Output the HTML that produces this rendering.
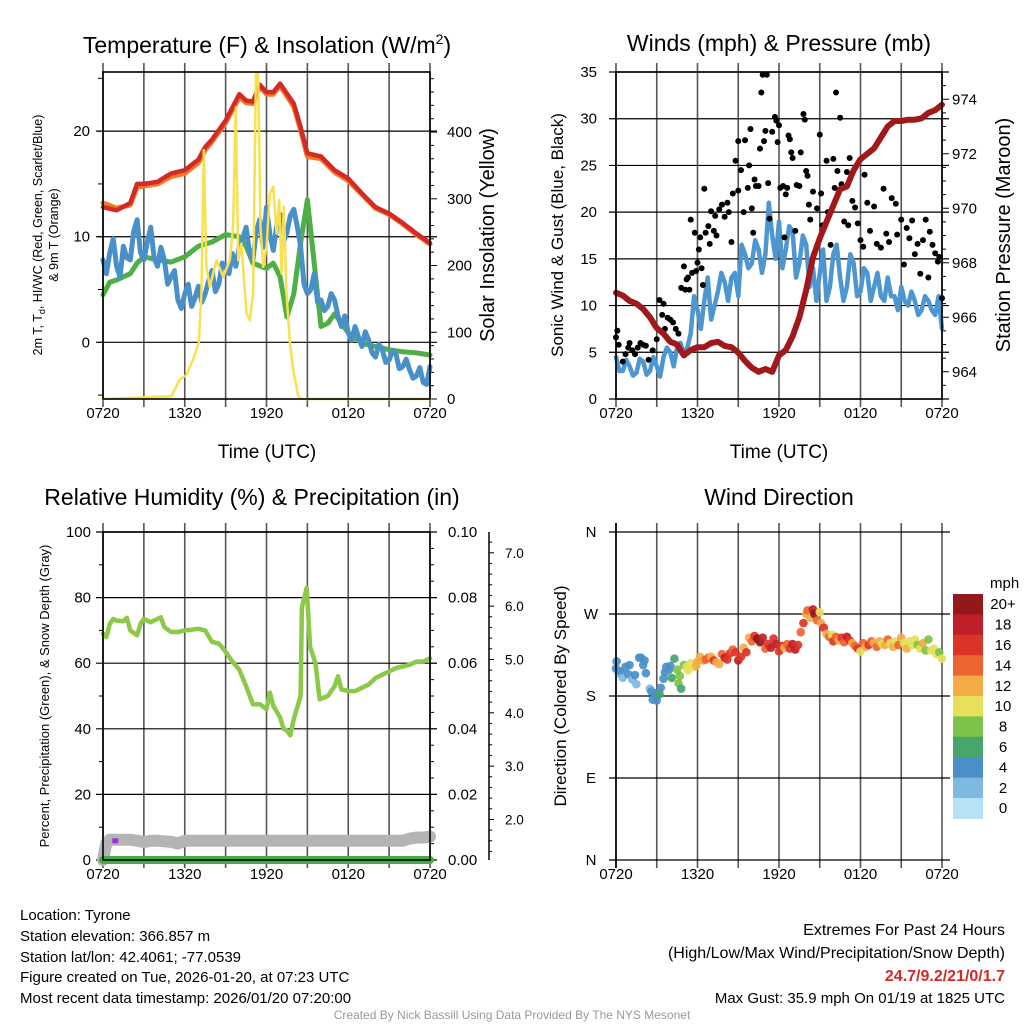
<!DOCTYPE html>
<html><head><meta charset="utf-8">
<style>
html,body{margin:0;padding:0;background:#fff;}
svg{display:block;font-family:"Liberation Sans",Arial,sans-serif;}
</style></head>
<body>
<svg id="fig" width="1024" height="1024" viewBox="0 0 1024 1024" xmlns="http://www.w3.org/2000/svg">
<rect x="0" y="0" width="1024" height="1024" fill="#fff"/>
<text x="267" y="53" font-size="23" text-anchor="middle">Temperature (F) &amp; Insolation (W/m<tspan font-size="14" dy="-9">2</tspan><tspan dy="9">)</tspan></text>
<text x="779" y="51" font-size="23" text-anchor="middle">Winds (mph) &amp; Pressure (mb)</text>
<text x="252" y="505" font-size="23" text-anchor="middle">Relative Humidity (%) &amp; Precipitation (in)</text>
<text x="779" y="505" font-size="23" text-anchor="middle">Wind Direction</text>

<text x="267" y="458" font-size="19" text-anchor="middle">Time (UTC)</text>
<text x="779" y="458" font-size="19" text-anchor="middle">Time (UTC)</text>
<text transform="translate(42,235) rotate(-90)" font-size="12.5" text-anchor="middle">2m T, T<tspan font-size="9" dy="3">d</tspan><tspan dy="-3">, HI/WC (Red, Green, Scarlet/Blue)</tspan></text>
<text transform="translate(58,235) rotate(-90)" font-size="12.5" text-anchor="middle">&amp; 9m T (Orange)</text>
<text transform="translate(494,235) rotate(-90)" font-size="20" text-anchor="middle">Solar Insolation (Yellow)</text>
<text transform="translate(563,235) rotate(-90)" font-size="17" text-anchor="middle">Sonic Wind &amp; Gust (Blue, Black)</text>
<text transform="translate(1010,235) rotate(-90)" font-size="20" text-anchor="middle">Station Pressure (Maroon)</text>
<text transform="translate(49,696) rotate(-90)" font-size="13" text-anchor="middle">Percent, Precipitation (Green), &amp; Snow Depth (Gray)</text>
<text transform="translate(566,696) rotate(-90)" font-size="17" text-anchor="middle">Direction (Colored By Speed)</text>

<g font-size="15">
<text x="20" y="920">Location: Tyrone</text>
<text x="20" y="941">Station elevation: 366.857 m</text>
<text x="20" y="962">Station lat/lon: 42.4061; -77.0539</text>
<text x="20" y="982">Figure created on Tue, 2026-01-20, at 07:23 UTC</text>
<text x="20" y="1003">Most recent data timestamp: 2026/01/20 07:20:00</text>
</g>
<g font-size="16" text-anchor="end">
<text x="1005" y="935">Extremes For Past 24 Hours</text>
<text x="1005" y="958">(High/Low/Max Wind/Precipitation/Snow Depth)</text>
<text x="1005" y="981" fill="#d42a26" font-weight="bold">24.7/9.2/21/0/1.7</text>
<text x="1005" y="1003" font-size="15">Max Gust: 35.9 mph On 01/19 at 1825 UTC</text>
</g>
<text x="512" y="1019" font-size="12" fill="#999" text-anchor="middle">Created By Nick Bassill Using Data Provided By The NYS Mesonet</text>
<g id="layer"></g>
</svg>
<script>
// ---------- DATA ----------
const xTickLabels = ["0720","1320","1920","0120","0720"];
const tempTimes = [0,1,2,2.5,3,4,5,6,7,7.5,8,9,10,10.5,11,11.5,12,12.5,13,14,14.5,15,16,17,18,19,20,21,22,23,24];
const tempRed =   [12.8,12.5,13.2,15,15,15.2,16,16.3,17.3,18.5,19.2,21,23.5,22.9,22.8,24.4,23.7,23.7,24.5,22.6,20.4,17.9,17.6,16.3,15.5,14.1,12.8,12.2,11.3,10.3,9.4];
const temp9mOrange = [13.2,12.7,13.0,14.7,14.8,15.0,15.7,16.0,17.0,18.2,19.0,20.8,23.2,22.7,22.6,24.2,23.5,23.5,24.3,22.3,20.1,17.6,17.4,16.1,15.3,14.0,12.7,12.1,11.2,10.2,9.3];
const dewTimes = [0,0.5,1,2,2.5,3,4,5,6,7,8,9,10,10.5,11,12,12.5,13,13.5,14,14.5,15,15.5,16,16.5,17,17.5,18,19,20,21,22,23,24];
const dewGreen = [4.5,5.7,5.9,6.5,7.5,8.1,7.8,7.6,8.1,9.1,9.5,10.2,10,9.1,7.5,7,7.5,6.2,2.4,4.6,9.4,13.5,7.5,1.5,1.8,2.7,1.8,0.9,-0.1,-0.4,-0.7,-0.9,-1,-1.2];
// wind chill, every 15 minutes
const chillBlue = [7.8,6.5,8.5,9.8,7.2,6.2,9.1,8.0,7.8,10.5,11.6,8.5,7.8,9.5,10.9,8.0,7.2,9.0,7.8,5.5,6.2,6.8,4.0,3.2,4.6,5.5,3.4,4.2,5.3,3.8,4.6,5.8,6.8,4.8,5.5,7.5,7.1,6.5,8.4,7.2,9.0,9.8,10.9,8.5,7.8,10.5,11.6,9.0,12.8,10.2,8.7,11.0,12.1,9.5,10.4,12.0,12.6,11.0,9.1,5.5,4.6,5.0,6.5,3.8,4.0,3.0,3.4,4.6,4.0,2.5,1.5,2.5,0.9,0.2,1.5,0.5,-0.4,1.0,0.2,-1.0,-1.4,-0.2,-0.7,-1.9,-1.7,-0.8,-1.1,-2.5,-2.3,-1.6,-2.6,-3.4,-3.2,-2.4,-3.8,-4.0,-2.3];
const solarTimes = [0,5.02,5.63,6.12,6.61,7.03,7.22,7.40,7.59,7.84,8.33,8.82,9.31,9.55,9.75,9.92,10.16,10.53,10.78,11.02,11.22,11.39,11.56,11.76,12.0,12.25,12.49,12.74,12.93,13.1,13.27,13.47,13.72,13.96,14.33,14.57,24];
const solarW = [0,4,29,36,59,84,158,373,198,168,208,183,208,258,437,208,233,128,118,158,487,487,258,198,228,308,318,248,298,188,288,158,84,44,4,0,0];
const tempTicks = [0,10,20];
const solarTicks = [0,100,200,300,400];
// winds, every 15 minutes
const windBlue = [4.5,3.0,3.0,4.2,3.5,2.5,2.8,4.3,4.0,2.6,3.0,4.5,3.5,2.4,4.5,5.5,5.0,3.5,5.5,6.0,4.8,5.5,7.0,11,9.5,7.5,10.5,13,8.5,10,11.5,13.5,12.5,10.5,13,13.5,11,16.5,15.5,14,14.5,17,16,13.5,15.5,21,17.5,15,19,14,16,18.5,18,13,14.5,17.5,16.5,12,14,10.5,13.5,16,10.5,12,15.5,16.5,13,10.5,12,15.5,14.5,11,11.5,14,13.5,10.5,12,13.5,11,10.5,13,11,11,9.5,12,10.5,10,11.5,10.5,9,9.5,11,10.5,9.5,9.0,11,7.5];
const gustT = [0,0.1,0.2,0.5,0.7,0.9,1,1.2,1.4,1.6,1.8,2,2.2,2.4,2.7,3,3.2,3.4,3.5,3.6,3.8,4,4.2,4.4,4.6,4.8,5,5.1,5.2,5.3,5.4,5.5,5.6,5.8,5.9,6,6.1,6.2,6.3,6.4,6.5,6.6,6.8,6.9,7,7.2,7.3,7.4,7.6,7.8,8,8.2,8.3,8.5,8.6,8.8,9,9,9.2,9.4,9.5,9.7,9.8,9.9,10,10.1,10.2,10.3,10.5,10.6,10.7,10.8,10.9,11,11.1,11.2,11.3,11.5,11.7,11.8,11.9,12,12.1,12.3,12.4,12.5,12.6,12.7,12.8,12.9,13,13.2,13.3,13.5,13.6,13.8,13.9,14,14.1,14.2,14.3,14.5,14.6,14.8,15,15.1,15.2,15.5,15.6,15.8,16,16.1,16.2,16.3,16.5,16.6,16.8,17,17.1,17.2,17.4,17.6,17.8,18,18.2,18.3,18.5,18.7,19,19.2,19.5,19.7,19.9,20.1,20.3,20.6,20.7,21,21.2,21.4,21.6,21.8,22,22.2,22.4,22.6,22.8,23,23.1,23.3,23.5,23.7,23.8,24];
const gustV = [6.6,7.3,5.8,4.0,4.8,5.5,6,5.2,4.8,5.5,6,5.8,5.7,4.2,5.2,6.4,10.6,9,10.2,7.5,8.7,8.5,8.2,7.5,7,11.9,14.2,11.7,12.8,13,11.7,19.2,13.5,17.8,13.7,14.6,16,17.3,14,12.2,22.5,17.8,18.5,16.6,20.1,18,19.6,17.5,20.3,20.8,19.5,21,20,16.8,22,25.5,27.6,22.3,24.5,20,27.7,22.6,25,28.9,20.4,17.8,23.5,22.8,22.8,26.8,32.8,34.7,27.6,28.7,34.7,23.1,19.3,28.6,30.2,29.8,27.5,29.3,22.6,22.8,17.3,21.9,22.6,28.2,27.8,26.4,25.8,18,22.9,22.8,26.4,30.5,29.9,24.4,23.9,20.8,19.2,22.2,15.6,20.4,28.3,22,18.6,25.5,20,16.5,25.7,22.6,32.8,24.4,30.1,23,19,24.3,18.6,25.8,21.2,20.5,18.8,17,16.3,24,21,18,20.6,16.6,16.2,22.5,17.7,16.8,21.5,20.9,17.6,19.2,14.4,18.3,17.2,19.1,15.5,16.6,13.4,17,19.2,13,17.9,16.5,15.6,14.7,15.2,10.8];
const presTimes = [0,0.5,1,1.5,2,2.5,3,3.5,4,4.5,5,5.5,6,6.5,7,7.5,8,8.5,9,9.5,10,10.5,11,11.5,12,12.5,13,13.5,14,14.5,15,15.5,16,16.5,17,17.5,18,18.5,19,19.5,20,20.5,21,21.5,22,22.5,23,23.5,24];
const presMb = [966.9,966.8,966.6,966.5,966.3,966.0,965.6,965.4,965.1,965.0,964.6,964.8,964.9,964.9,965.05,965.1,964.95,964.9,964.7,964.4,964.15,964.0,964.1,964.0,964.6,964.8,965.3,966.0,967.0,968.2,968.9,969.5,970.1,970.7,970.8,971.4,971.8,972.0,972.2,972.6,973.0,973.2,973.2,973.25,973.25,973.3,973.5,973.6,973.8];
const windTicks = [0,5,10,15,20,25,30,35];
const presTicks = [964,966,968,970,972,974];
const rhTimes = [0,0.25,0.5,0.75,1,1.5,1.75,2,2.5,2.75,3,3.5,4,4.25,4.5,5,5.5,6,6.5,7,7.5,8,8.5,9,9.5,10,10.5,11,11.5,12,12.25,12.5,13,13.25,13.5,13.75,14,14.5,14.6,14.95,15.2,15.6,15.9,16.5,17,17.25,17.5,18,18.5,19,19.5,20,20.5,21,21.5,22,22.5,23,23.5,24];
const rhPct = [69,68,72,73.5,73,72.8,73.8,70,68.5,72,73.5,72.5,73.5,74,71,69.5,69.5,70,70.2,70.5,70,66.5,66,63.5,60.5,58,53,47.5,47.5,46,51,47,43.5,40,39.5,38,43,50,77,83,65,60,49,50,53,56,52,51.5,51.5,52.5,53.5,55.5,56.5,57.5,58.5,59,59.5,60.5,60.5,61.5];
const snowTimes = [0,0.25,0.5,1,2,3,3.5,4,5,5.5,6,8,12,16,20,22,22.5,23,23.5,24];
const snowIn = [1.24,1.56,1.62,1.62,1.62,1.58,1.6,1.6,1.58,1.55,1.6,1.6,1.6,1.6,1.6,1.6,1.64,1.66,1.66,1.68];
const precipTimes = [0,24];
const precipIn = [0,0];
const rhTicks = [0,20,40,60,80,100];
const precipTicks = ["0.00","0.02","0.04","0.06","0.08","0.10"];
const snowTicks = [2,3,4,5,6,7];
const dirT = [0,0.05,0.2,0.35,0.5,0.7,0.9,1,1.2,1.4,1.5,1.7,1.85,2,2.1,2.2,2.5,2.6,2.7,2.9,3,3,3.2,3.3,3.5,3.6,3.7,3.9,4,4.1,4.3,4.5,4.6,4.7,4.8,5,5.2,5.3,5.5,5.7,5.9,6,6.2,6.4,6.6,6.8,7,7.2,7.4,7.6,7.8,8,8.2,8.4,8.6,8.8,9,9.2,9.4,9.6,9.8,10,10.2,10.4,10.6,10.8,11,11.2,11.4,11.6,11.8,12,12.2,12.4,12.6,12.8,13,13.2,13.4,13.6,13.8,14,14.1,14.3,14.5,14.6,14.8,15,15.1,15.3,15.5,15.7,15.9,16,16.2,16.4,16.6,16.8,17,17.2,17.4,17.6,17.8,18,18.2,18.4,18.6,18.8,19,19.2,19.4,19.6,19.8,20,20.2,20.4,20.6,20.8,21,21.2,21.4,21.6,21.8,22,22.2,22.4,22.6,22.8,23,23.2,23.4,23.6,23.8,24];
const dirDeg = [210,218,205,207,200,212,204,214,198,203,193,222,222,214,219,205,188,185,176,183,175,180,182,189,199,206,212,209,213,200,221,209,194,202,188,214,212,208,216,212,213,218,223,219,220,222,223,219,217,215,226,222,220,227,231,228,219,223,233,228,244,240,246,243,239,244,232,237,233,243,237,229,235,233,237,232,237,231,236,250,260,270,274,266,275,270,263,272,260,255,248,245,247,240,245,241,244,239,245,241,238,235,232,229,238,234,236,240,238,234,240,237,236,242,238,234,240,236,244,238,232,240,236,242,236,232,238,230,242,230,232,226,228,221];
const dirSpeed = [4,4,2,4,2,4,4,4,2,4,2,4,4,4,4,4,2,4,4,4,4,4,6,4,4,4,4,4,4,6,6,8,8,8,6,8,10,10,10,10,12,12,12,12,14,14,12,16,12,12,14,18,16,16,14,16,18,16,12,16,12,14,16,20,20,18,14,16,18,16,18,16,16,12,14,16,18,18,16,14,16,12,14,12,18,20,14,10,12,16,12,14,10,16,14,12,16,14,18,16,12,14,16,10,14,12,16,14,12,14,12,10,12,14,10,12,10,14,12,10,12,10,10,10,8,10,12,8,8,10,10,10,8,10];
const dirTickLabels = ["N","E","S","W","N"];
const dirTickValues = [0,90,180,270,360];
const speedBinLabels = ["0","2","4","6","8","10","12","14","16","18","20+"];
const speedBinColors = ["#b5e2f6","#7fb9e2","#4a8fc6","#48a56c","#7cc24a","#e6e05a","#f5aa48","#ee6431","#db3427","#c01f27","#93181a"];

// ---------- HELPERS ----------
const NS="http://www.w3.org/2000/svg";
const layer=document.getElementById('layer');
function lin(d0,d1,r0,r1){return v=>r0+(v-d0)*(r1-r0)/(d1-d0);}
function mk(tag,attrs,parent){const e=document.createElementNS(NS,tag);for(const k in attrs)e.setAttribute(k,attrs[k]);(parent||layer).appendChild(e);return e;}
function pathD(ts,vs,sx,sy){return ts.map((t,i)=>(i?'L':'M')+sx(t).toFixed(1)+','+sy(vs[i]).toFixed(1)).join('');}
function quarterTimes(vals){return vals.map((_,i)=>i*0.25);}

function frame(P,name){
  for(let i=0;i<=8;i++){
    const x=P.sx(i*3);
    const l=mk('line',{x1:x,x2:x,y1:P.y0-9,y2:P.y1+8,stroke:'#555','stroke-width':1.6});
    
    
  }
  for(let i=0;i<5;i++){
    const t=mk('text',{x:P.sx(i*6),y:P.y1+19,'font-size':15,'text-anchor':'middle'});
    t.textContent=xTickLabels[i];
    
    
  }
}
function hgrid(P,y,name){
  const l=mk('line',{x1:P.x0-7,x2:P.x1+7,y1:y,y2:y,stroke:'#000','stroke-width':1.2});
  
  
}
function tick(x1,x2,y,name){
  const l=mk('line',{x1:x1,x2:x2,y1:y,y2:y,stroke:'#000','stroke-width':1});
  
  
}
function label(x,y,txt,anchor,size,name){
  const t=mk('text',{x:x,y:y+5,'font-size':size||15,'text-anchor':anchor});
  t.textContent=txt;
  
  
}
function border(P,name){
  const r=mk('rect',{x:P.x0,y:P.y0,width:P.x1-P.x0,height:P.y1-P.y0,fill:'none',stroke:'#000','stroke-width':1.6});
  
  
}
function line(ts,vs,sx,sy,color,w,name){
  const p=mk('path',{d:pathD(ts,vs,sx,sy),fill:'none',stroke:color,'stroke-width':w,'stroke-linejoin':'round','stroke-linecap':'round'});
  
  
  return p;
}

// ---------- PANEL 1 ----------
(function(){
  const P={x0:103,x1:430,y0:72,y1:399};
  P.sx=lin(0,24,P.x0,P.x1);
  const sy=lin(-5.37,25.6,P.y1,P.y0);
  const sr=lin(0,490,P.y1,P.y0);
  frame(P,'temperature');
  tempTicks.forEach(v=>{hgrid(P,sy(v),'temperature-gridline');label(90,sy(v),String(v),'end',15,'temperature-y-tick-label');});
  for(let v=-5;v<=25;v+=5) tick(P.x0-5,P.x0,sy(v),'temperature-minor-tick');
  for(let v=0;v<=480;v+=20) tick(P.x1,P.x1+(v%100===0?7:4),sr(v),'solar-tick');
  solarTicks.forEach(v=>label(447,sr(v),String(v),'start',15,'solar-y-tick-label'));
  line(tempTimes,temp9mOrange,P.sx,sy,'#f07a28',5,'temperature-9m-orange-line');
  line(tempTimes,tempRed,P.sx,sy,'#d42a26',4.5,'temperature-2m-red-line');
  line(dewTimes,dewGreen,P.sx,sy,'#4cb044',5,'dewpoint-green-line');
  line(quarterTimes(chillBlue),chillBlue,P.sx,sy,'#4a90c8',5,'windchill-blue-line');
  line(solarTimes,solarW,P.sx,sr,'#f8e050',2.5,'solar-insolation-yellow-line');
  border(P,'temperature');
})();

// ---------- PANEL 2 ----------
(function(){
  const P={x0:616,x1:942,y0:72,y1:399};
  P.sx=lin(0,24,P.x0,P.x1);
  const sy=lin(0,35,P.y1,P.y0);
  const sp=lin(963,975,P.y1,P.y0);
  frame(P,'winds');
  windTicks.forEach(v=>{hgrid(P,sy(v),'winds-gridline');label(597,sy(v),String(v),'end',15,'winds-y-tick-label');});
  for(let v=963;v<=975;v+=0.5) tick(P.x1,P.x1+(v%2===0?7:4),sp(v),'pressure-tick');
  presTicks.forEach(v=>label(952,sp(v),String(v),'start',15,'pressure-y-tick-label'));
  line(quarterTimes(windBlue),windBlue,P.sx,sy,'#4e96d0',4.5,'sonic-wind-blue-line');
  gustT.forEach((t,i)=>{
    const c=mk('circle',{cx:P.sx(t),cy:sy(gustV[i]),r:3,fill:'#000'});
    
    
  });
  line(presTimes,presMb,P.sx,sp,'#a0181a',6,'station-pressure-maroon-line');
  border(P,'winds');
})();

// ---------- PANEL 3 ----------
(function(){
  const P={x0:103,x1:430,y0:532,y1:860};
  P.sx=lin(0,24,P.x0,P.x1);
  const sy=lin(0,100,P.y1,P.y0);
  const spr=lin(0,0.1,P.y1,P.y0);
  const ss=lin(1.24,7.39,P.y1,P.y0);
  frame(P,'humidity');
  rhTicks.forEach(v=>{hgrid(P,sy(v),'humidity-gridline');label(91,sy(v),String(v),'end',15,'humidity-y-tick-label');});
  for(let v=10;v<=90;v+=20) tick(P.x0-4,P.x0,sy(v),'humidity-minor-tick');
  for(let i=0;i<=20;i++) tick(P.x1,P.x1+(i%4===0?7:4),spr(i*0.005),'precip-tick');
  precipTicks.forEach(v=>label(448,spr(parseFloat(v)),v,'start',15,'precip-y-tick-label'));
  const ax=mk('line',{x1:489,x2:489,y1:P.y0,y2:P.y1,stroke:'#000','stroke-width':1.5});
  
  
  for(let v=1.4;v<=7.3;v+=0.2){const major=Math.abs(v-Math.round(v))<0.01;tick(489,489+(major?5:3),ss(v),'snow-depth-tick');}
  snowTicks.forEach(v=>label(505,ss(v),v.toFixed(1),'start',13.5,'snow-depth-tick-label'));
  line(snowTimes,snowIn,P.sx,ss,'#b4b4b4',12,'snow-depth-gray-line');
  line(precipTimes,precipIn,P.sx,spr,'#44ac44',8,'precipitation-green-line');
  const pd=mk('rect',{x:P.sx(0.9)-3,y:ss(1.6)-2.5,width:6,height:5,fill:'#a030e0'});
  
  
  line(rhTimes,rhPct,P.sx,sy,'#8cc84a',4.5,'relative-humidity-line');
  border(P,'humidity');
})();

// ---------- PANEL 4 ----------
(function(){
  const P={x0:616,x1:942,y0:532,y1:860};
  P.sx=lin(0,24,P.x0,P.x1);
  const sy=lin(0,360,P.y1,P.y0);
  frame(P,'direction');
  dirTickValues.forEach((v,i)=>{
    const l=mk('line',{x1:P.x0-7,x2:P.x1+8,y1:sy(v),y2:sy(v),stroke:'#000','stroke-width':1.2});
    
    
    label(591,sy(v),dirTickLabels[i],'middle',15,'direction-tick-label');
  });
  dirT.forEach((t,i)=>{
    const b=Math.min(10,Math.floor(dirSpeed[i]/2));
    const c=mk('circle',{cx:P.sx(t),cy:sy(dirDeg[i]),r:4.3,fill:speedBinColors[b],'fill-opacity':0.92});
    
    
  });
  const l1=mk('line',{x1:P.x0,x2:P.x0,y1:P.y0-9,y2:P.y1+8,stroke:'#000','stroke-width':1.6});
  
  
  const cbTop=594, cbH=20.4;
  const cbt=mk('text',{x:990,y:588,'font-size':15});
  cbt.textContent='mph';
  
  
  for(let i=0;i<11;i++){
    const k=10-i;
    const r=mk('rect',{x:953,y:cbTop+i*cbH,width:30,height:cbH+0.5,fill:speedBinColors[k]});
    
    
    label(1003,cbTop+i*cbH+cbH/2,speedBinLabels[k],'middle',15,'colorbar-label');
  }
})();
</script>
</body></html>
